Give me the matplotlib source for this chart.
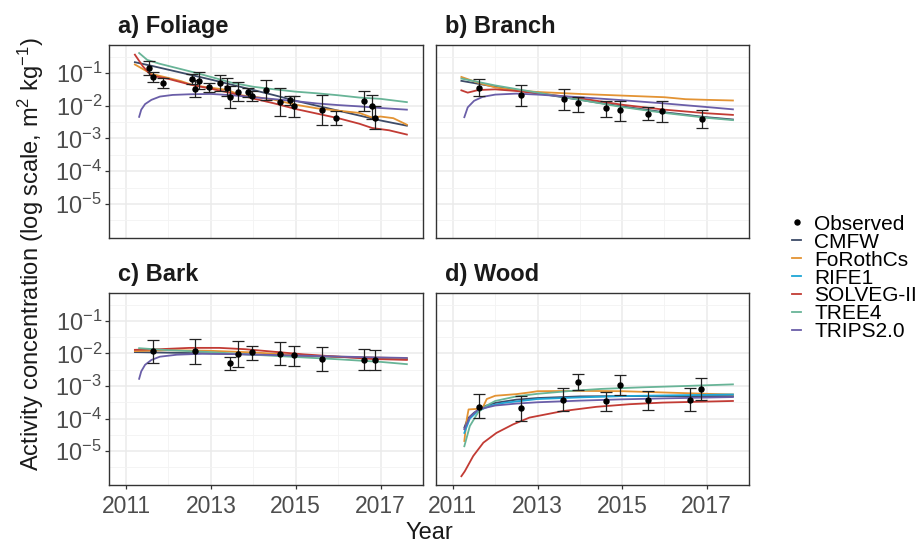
import numpy as np
import matplotlib.pyplot as plt
from matplotlib.lines import Line2D
from matplotlib.ticker import FixedLocator, NullFormatter

plt.rcParams['font.family'] = ['Liberation Sans', 'DejaVu Sans']
plt.rcParams['mathtext.fontset'] = 'custom'
plt.rcParams['mathtext.rm'] = 'Liberation Sans'
plt.rcParams['mathtext.it'] = 'Liberation Sans:italic'
plt.rcParams['mathtext.bf'] = 'Liberation Sans:bold'

# ---- data (years, log10 of activity concentration) ----
MODELS = ['CMFW', 'FoRothCs', 'RIFE1', 'SOLVEG-II', 'TREE4', 'TRIPS2.0']
COLORS = ['#3d4b68', '#e39333', '#1ea6d6', '#c23b34', '#68b497', '#6a5ea8']
PANELS = ['a) Foliage', 'b) Branch', 'c) Bark', 'd) Wood']

# observations: year, log10 value, lower/upper end of error bar (log10)
fol_obs_year = [2011.55, 2011.63, 2011.88, 2012.55, 2012.62, 2012.72, 2012.95, 2013.21,
                2013.37, 2013.46, 2013.63, 2013.87, 2013.96, 2014.29, 2014.62, 2014.87,
                2014.95, 2015.62, 2015.96, 2016.62, 2016.79, 2016.87]
fol_obs_val = [-0.85, -1.13, -1.31, -1.18, -1.48, -1.23, -1.44, -1.31, -1.46, -1.73, -1.58,
               -1.59, -1.71, -1.51, -1.89, -1.84, -2.00, -2.12, -2.38, -1.86, -2.02, -2.36]
fol_obs_lo = [-1.05, -1.28, -1.46, -1.33, -1.73, -1.49, -1.59, -1.56, -1.71, -2.07, -1.87,
              -1.72, -1.87, -1.83, -2.30, -1.98, -2.33, -2.58, -2.60, -2.17, -2.42, -2.71]
fol_obs_hi = [-0.64, -0.98, -1.15, -1.03, -1.20, -0.98, -1.30, -1.07, -1.15, -1.41, -1.28,
              -1.46, -1.54, -1.20, -1.45, -1.71, -1.71, -1.66, -2.17, -1.56, -1.68, -2.02]

bra_obs_year = [2011.62, 2012.62, 2013.62, 2013.95, 2014.62, 2014.95, 2015.62, 2015.95, 2016.88]
bra_obs_val = [-1.46, -1.68, -1.80, -1.92, -2.06, -2.12, -2.24, -2.17, -2.40]
bra_obs_lo = [-1.70, -2.02, -2.12, -2.19, -2.35, -2.46, -2.45, -2.50, -2.69]
bra_obs_hi = [-1.19, -1.38, -1.50, -1.72, -1.85, -1.85, -2.04, -1.87, -2.12]

bar_obs_year = [2011.63, 2012.63, 2013.46, 2013.63, 2013.96, 2014.62, 2014.95, 2015.62,
                2016.62, 2016.87]
bar_obs_val = [-1.94, -1.92, -2.30, -2.01, -1.97, -2.01, -2.06, -2.16, -2.19, -2.21]
bar_obs_lo = [-2.30, -2.32, -2.50, -2.42, -2.20, -2.37, -2.38, -2.53, -2.52, -2.51]
bar_obs_hi = [-1.60, -1.56, -2.11, -1.62, -1.76, -1.66, -1.76, -1.79, -1.86, -1.91]

woo_obs_year = [2011.62, 2012.62, 2013.61, 2013.95, 2014.61, 2014.94, 2015.61, 2016.61, 2016.87]
woo_obs_val = [-3.64, -3.69, -3.42, -2.88, -3.46, -2.97, -3.44, -3.42, -3.10]
woo_obs_lo = [-3.99, -4.09, -3.76, -3.12, -3.78, -3.28, -3.75, -3.78, -3.44]
woo_obs_hi = [-3.26, -3.31, -3.07, -2.62, -3.17, -2.65, -3.14, -3.06, -2.75]

# model curves: (year, log10 value)
fol_cmfw = [(2011.21, -0.67), (2011.6, -0.78), (2012, -0.90), (2012.5, -1.05), (2013, -1.20),
            (2013.5, -1.36), (2014, -1.52), (2014.5, -1.68), (2015, -1.85), (2015.5, -2.00),
            (2016, -2.15), (2016.5, -2.30), (2017, -2.45), (2017.62, -2.61)]
fol_foroth = [(2011.21, -0.74), (2011.4, -0.88), (2011.6, -1.03), (2011.9, -1.12), (2012.3, -1.25),
              (2012.6, -1.38), (2013, -1.45), (2013.4, -1.52), (2013.7, -1.68), (2014, -1.72),
              (2014.5, -1.82), (2015, -1.97), (2015.5, -2.08), (2016, -2.15), (2016.5, -2.22),
              (2016.8, -2.36), (2017, -2.33), (2017.3, -2.38), (2017.62, -2.58)]
fol_solveg = [(2011.21, -0.44), (2011.4, -0.80), (2011.6, -1.08), (2012, -1.18), (2012.5, -1.35),
              (2013, -1.48), (2013.5, -1.62), (2014, -1.78), (2014.5, -1.93), (2015, -2.10),
              (2015.5, -2.24), (2016, -2.38), (2016.5, -2.55), (2016.8, -2.68), (2017.2, -2.75),
              (2017.62, -2.88)]
fol_tree4 = [(2011.31, -0.39), (2011.5, -0.60), (2011.8, -0.72), (2012.2, -0.85), (2012.6, -0.98),
             (2013, -1.12), (2013.5, -1.30), (2014, -1.42), (2014.5, -1.50), (2015, -1.57),
             (2015.5, -1.62), (2016, -1.68), (2016.5, -1.75), (2017, -1.79), (2017.62, -1.89)]
fol_trips = [(2011.31, -2.34), (2011.36, -2.12), (2011.45, -1.95), (2011.6, -1.82), (2011.8, -1.72),
             (2012.1, -1.67), (2012.5, -1.65), (2013, -1.64), (2013.5, -1.68), (2014, -1.74),
             (2014.5, -1.80), (2015, -1.86), (2015.5, -1.93), (2016, -1.98), (2016.5, -2.02),
             (2017, -2.07), (2017.62, -2.12)]

bra_cmfw = [(2011.2, -1.24), (2012, -1.42), (2013, -1.62), (2014, -1.82), (2015, -2.02),
            (2016, -2.20), (2017, -2.35), (2017.62, -2.42)]
bra_foroth = [(2011.2, -1.12), (2011.6, -1.30), (2012, -1.44), (2012.5, -1.53), (2013, -1.58),
              (2014, -1.64), (2015, -1.69), (2016, -1.74), (2016.5, -1.80), (2017, -1.82),
              (2017.62, -1.84)]
bra_solveg = [(2011.2, -1.53), (2011.35, -1.60), (2011.6, -1.52), (2012, -1.50), (2012.5, -1.55),
              (2013, -1.62), (2014, -1.77), (2015, -1.97), (2016, -2.12), (2017, -2.23),
              (2017.62, -2.28)]
bra_tree4 = [(2011.2, -1.17), (2012, -1.38), (2013, -1.60), (2014, -1.82), (2015, -2.04),
             (2016, -2.22), (2017, -2.37), (2017.62, -2.44)]
bra_trips = [(2011.27, -2.35), (2011.35, -2.05), (2011.5, -1.85), (2011.7, -1.73), (2012, -1.66),
             (2012.5, -1.63), (2013, -1.66), (2014, -1.74), (2015, -1.83), (2016, -1.93),
             (2017, -2.04), (2017.62, -2.11)]

bar_cmfw = [(2011.21, -1.96), (2013, -2.00), (2015, -2.07), (2017.62, -2.17)]
bar_foroth = [(2011.21, -1.93), (2012, -1.90), (2013, -1.92), (2014, -1.97), (2015, -2.05),
              (2016, -2.10), (2017.62, -2.15)]
bar_solveg = [(2011.21, -1.89), (2011.8, -1.87), (2012.5, -1.83), (2013.2, -1.83), (2013.8, -1.87),
              (2014.5, -1.95), (2015.2, -2.03), (2016, -2.10), (2016.8, -2.17), (2017.62, -2.20)]
bar_tree4 = [(2011.31, -1.84), (2012, -1.90), (2013, -1.96), (2014, -2.04), (2015, -2.11),
             (2016, -2.18), (2017, -2.26), (2017.62, -2.33)]
bar_trips = [(2011.31, -2.78), (2011.36, -2.55), (2011.45, -2.35), (2011.6, -2.20), (2011.8, -2.10),
             (2012.2, -2.04), (2012.8, -2.01), (2013.5, -2.02), (2014.5, -2.05), (2015.5, -2.08),
             (2016.5, -2.11), (2017.62, -2.14)]

woo_cmfw = [(2011.27, -4.28), (2011.35, -4.00), (2011.5, -3.82), (2011.75, -3.62), (2012, -3.52),
            (2012.5, -3.42), (2013, -3.37), (2014, -3.32), (2015, -3.31), (2017.62, -3.31)]
woo_foroth = [(2011.27, -4.69), (2011.33, -4.00), (2011.37, -3.72), (2011.6, -3.70), (2011.7, -3.68),
              (2011.8, -3.40), (2012, -3.30), (2012.5, -3.25), (2012.8, -3.20), (2013, -3.16),
              (2014, -3.15), (2015, -3.16), (2016, -3.20), (2017, -3.24), (2017.62, -3.26)]
woo_rife = [(2011.27, -4.44), (2011.4, -4.00), (2011.6, -3.76), (2011.9, -3.60), (2012.2, -3.52),
            (2013, -3.40), (2014, -3.35), (2015, -3.31), (2016, -3.29), (2017.62, -3.26)]
woo_solveg = [(2011.2, -5.77), (2011.28, -5.62), (2011.48, -5.15), (2011.72, -4.74), (2012.03, -4.44),
              (2012.42, -4.18), (2012.81, -3.97), (2013.6, -3.77), (2014.39, -3.64), (2015.17, -3.56),
              (2015.96, -3.51), (2017.62, -3.46)]
woo_tree4 = [(2011.27, -4.85), (2011.4, -4.23), (2011.6, -3.80), (2011.8, -3.60), (2012, -3.46),
             (2012.5, -3.32), (2013, -3.24), (2013.8, -3.15), (2014.5, -3.09), (2015.5, -3.04),
             (2016.5, -3.00), (2017.62, -2.95)]
woo_trips = [(2011.27, -4.33), (2011.4, -3.95), (2011.6, -3.72), (2012, -3.60), (2012.5, -3.54),
             (2013, -3.50), (2014, -3.45), (2015, -3.41), (2016, -3.38), (2017.62, -3.34)]

panel_curves = [
    {'CMFW': fol_cmfw, 'FoRothCs': fol_foroth, 'SOLVEG-II': fol_solveg, 'TREE4': fol_tree4, 'TRIPS2.0': fol_trips},
    {'CMFW': bra_cmfw, 'FoRothCs': bra_foroth, 'SOLVEG-II': bra_solveg, 'TREE4': bra_tree4, 'TRIPS2.0': bra_trips},
    {'CMFW': bar_cmfw, 'FoRothCs': bar_foroth, 'SOLVEG-II': bar_solveg, 'TREE4': bar_tree4, 'TRIPS2.0': bar_trips},
    {'CMFW': woo_cmfw, 'FoRothCs': woo_foroth, 'RIFE1': woo_rife, 'SOLVEG-II': woo_solveg,
     'TREE4': woo_tree4, 'TRIPS2.0': woo_trips},
]
panel_obs = [
    (fol_obs_year, fol_obs_val, fol_obs_lo, fol_obs_hi),
    (bra_obs_year, bra_obs_val, bra_obs_lo, bra_obs_hi),
    (bar_obs_year, bar_obs_val, bar_obs_lo, bar_obs_hi),
    (woo_obs_year, woo_obs_val, woo_obs_lo, woo_obs_hi),
]

# ---- figure ----
fig = plt.figure(figsize=(9.2, 5.43), dpi=100)
W, H = 920, 543
boxes = [(109, 45, 314, 193), (436, 45, 313, 193), (109, 293, 314, 192), (436, 293, 313, 192)]

major_y = [1e-5, 1e-4, 1e-3, 1e-2, 1e-1]
minor_y = [10 ** (k + 0.5) for k in range(-7, 0)]

for i, (x0, y0, w, h) in enumerate(boxes):
    ax = fig.add_axes([x0 / W, 1 - (y0 + h) / H, w / W, h / H])
    ax.set_yscale('log')
    ax.set_xlim(2010.6, 2018.0)
    ax.set_ylim(10 ** -6.04, 10 ** -0.145)

    ax.xaxis.set_major_locator(FixedLocator([2011, 2013, 2015, 2017]))
    ax.xaxis.set_minor_locator(FixedLocator([2012, 2014, 2016]))
    ax.yaxis.set_major_locator(FixedLocator(major_y))
    ax.yaxis.set_minor_locator(FixedLocator(minor_y))
    ax.yaxis.set_minor_formatter(NullFormatter())
    ax.grid(True, which='major', color='#ebebeb', lw=1.1)
    ax.grid(True, which='minor', color='#f3f3f3', lw=0.6)
    ax.set_axisbelow(True)
    for s in ax.spines.values():
        s.set_color('#333333')
        s.set_linewidth(1.0)
    ax.tick_params(which='major', length=3, width=0.9, color='#333333', labelcolor='#4d4d4d')
    ax.tick_params(axis='x', labelsize=16.5, pad=4)
    ax.tick_params(axis='y', labelsize=17, pad=2)
    ax.tick_params(which='minor', length=0)

    # facet style: axes only on the outer panels
    if i in (0, 2):
        ax.set_yticklabels([r'$10^{-5}$', r'$10^{-4}$', r'$10^{-3}$', r'$10^{-2}$', r'$10^{-1}$'])
    else:
        ax.set_yticklabels([])
        ax.tick_params(axis='y', which='major', length=0)
    if i in (2, 3):
        ax.set_xticklabels(['2011', '2013', '2015', '2017'])
    else:
        ax.set_xticklabels([])
        ax.tick_params(axis='x', which='major', length=0)

    curves = panel_curves[i]
    for name, col in zip(MODELS, COLORS):
        if name in curves:
            pts = np.array(curves[name])
            ax.plot(pts[:, 0], 10 ** pts[:, 1], color=col, lw=1.3, zorder=3)

    yr, val, lo, hi = (np.array(a) for a in panel_obs[i])
    yv = 10 ** val
    ax.errorbar(yr, yv, yerr=[yv - 10 ** lo, 10 ** hi - yv], fmt='o', color='black',
                ms=3.6, ecolor='#222222', elinewidth=0.9, capsize=4.5, capthick=0.9, zorder=5)

    ax.text(9 / w, 1 + 12 / h, PANELS[i], transform=ax.transAxes, ha='left', va='baseline',
            fontsize=17, fontweight='bold', color='#1a1a1a')

fig.text(31 / W, 1 - 254 / H, 'Activity concentration (log scale, m$^2$ kg$^{-1}$)',
         rotation=90, ha='center', va='center', fontsize=17, color='#1a1a1a')
fig.text(429 / W, 1 - 533 / H, 'Year', ha='center', va='center', fontsize=17, color='#1a1a1a')

handles = [Line2D([], [], marker='o', ls='none', color='black', ms=3.6)]
handles += [Line2D([], [], color=c, lw=1.3) for c in COLORS]
fig.legend(handles, ['Observed'] + MODELS, loc='center left', bbox_to_anchor=(792 / W, 1 - 278 / H),
           frameon=False, fontsize=15, handlelength=0.45, handletextpad=0.62, labelspacing=-0.05,
           borderpad=0, borderaxespad=0)

fig.savefig('out.png', dpi=100)
